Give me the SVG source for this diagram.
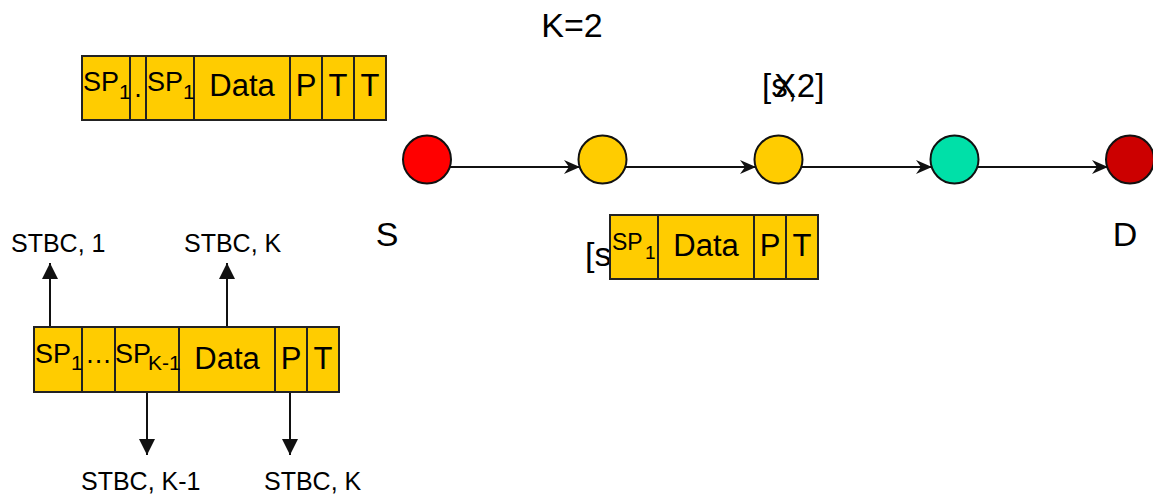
<svg xmlns="http://www.w3.org/2000/svg" width="1153" height="498" viewBox="0 0 1153 498">
  <style>
    text { font-family: "Liberation Sans", Arial, sans-serif; fill: #000; }
    .cell { fill: #FFCC00; stroke: #222; stroke-width: 2; }
    .node { stroke: #111; stroke-width: 2; }
    .edge { stroke: #111; stroke-width: 2; fill: none; }
    .lbl { font-size: 25px; }
    .big { font-size: 34px; }
    .f30 { font-size: 31px; text-anchor: middle; }
    .sp { font-size: 27px; }
    .sub { font-size: 21px; }
  </style>
  <defs>
    <marker id="stealth" viewBox="0 0 16 14" refX="16" refY="7" markerWidth="16" markerHeight="14" markerUnits="userSpaceOnUse" orient="auto">
      <path d="M0,0 L16,7 L0,14 L5,7 Z" fill="#111"/>
    </marker>
    <marker id="tri" viewBox="0 0 16 16" refX="16" refY="8" markerWidth="16" markerHeight="16" markerUnits="userSpaceOnUse" orient="auto">
      <path d="M0,0 L16,8 L0,16 Z" fill="#111"/>
    </marker>
  </defs>

  <!-- title -->
  <text class="big" x="572" y="37" text-anchor="middle">K=2</text>

  <!-- packet with two SP fields -->
  <g id="packet-top">
    <rect class="cell" x="82" y="56" width="48" height="64"/>
    <rect class="cell" x="130" y="56" width="16" height="64"/>
    <rect class="cell" x="146" y="56" width="48" height="64"/>
    <rect class="cell" x="194" y="56" width="96" height="64"/>
    <rect class="cell" x="290" y="56" width="32" height="64"/>
    <rect class="cell" x="322" y="56" width="32" height="64"/>
    <rect class="cell" x="354" y="56" width="32" height="64"/>
    <text class="sp" x="83" y="91">SP</text><text class="sub" x="119" y="99">1</text>
    <text class="sp" x="138" y="97" text-anchor="middle">.</text>
    <text class="sp" x="147" y="91">SP</text><text class="sub" x="183" y="99">1</text>
    <text class="f30" x="242" y="96">Data</text>
    <text class="f30" x="306" y="96">P</text>
    <text class="f30" x="338" y="96">T</text>
    <text class="f30" x="370" y="96">T</text>
  </g>

  <!-- relay label, X struck over the s -->
  <g id="label-relay">
    <text x="762" y="97" font-size="33">[s<tspan dx="-13.7">X</tspan><tspan dx="-8.3">,2]</tspan></text>
  </g>

  <!-- connectors -->
  <g id="connectors">
    <line class="edge" x1="450" y1="167" x2="580" y2="167" marker-end="url(#stealth)"/>
    <line class="edge" x1="625" y1="167" x2="756" y2="167" marker-end="url(#stealth)"/>
    <line class="edge" x1="801" y1="167" x2="932" y2="167" marker-end="url(#stealth)"/>
    <line class="edge" x1="977" y1="167" x2="1108" y2="167" marker-end="url(#stealth)"/>
    <line class="edge" x1="50" y1="327" x2="50" y2="263" marker-end="url(#tri)"/>
    <line class="edge" x1="227" y1="327" x2="227" y2="263" marker-end="url(#tri)"/>
    <line class="edge" x1="147" y1="392" x2="147" y2="455" marker-end="url(#tri)"/>
    <line class="edge" x1="290" y1="392" x2="290" y2="455" marker-end="url(#tri)"/>
  </g>

  <!-- nodes -->
  <g id="node-s">
    <circle class="node" cx="427" cy="159.5" r="24" fill="#FF0000"/>
    <text class="big" x="387" y="246" text-anchor="middle">S</text>
  </g>
  <g id="node-r1"><circle class="node" cx="602.5" cy="159.5" r="24" fill="#FFCC00"/></g>
  <g id="node-r2"><circle class="node" cx="778.5" cy="159.5" r="24" fill="#FFCC00"/></g>
  <g id="node-r3"><circle class="node" cx="954.5" cy="159.5" r="24" fill="#00E0A8"/></g>
  <g id="node-d">
    <circle class="node" cx="1130" cy="159.5" r="24" fill="#CC0000"/>
    <text class="big" x="1125" y="246" text-anchor="middle">D</text>
  </g>

  <!-- packet forwarded along the route -->
  <g id="packet-mid">
    <text class="big" x="585" y="266">[s</text>
    <rect class="cell" x="610" y="215" width="48" height="64"/>
    <rect class="cell" x="658" y="215" width="96" height="64"/>
    <rect class="cell" x="754" y="215" width="32" height="64"/>
    <rect class="cell" x="786" y="215" width="32" height="64"/>
    <text x="612" y="250" font-size="23">SP</text><text x="645" y="259" font-size="19">1</text>
    <text class="f30" x="706" y="256">Data</text>
    <text class="f30" x="770" y="256">P</text>
    <text class="f30" x="802" y="256">T</text>
  </g>

  <!-- packet with K-1 SP fields -->
  <g id="packet-bottom">
    <rect class="cell" x="34" y="327" width="48" height="65"/>
    <rect class="cell" x="82" y="327" width="33" height="65"/>
    <rect class="cell" x="115" y="327" width="64" height="65"/>
    <rect class="cell" x="179" y="327" width="96" height="65"/>
    <rect class="cell" x="275" y="327" width="32" height="65"/>
    <rect class="cell" x="307" y="327" width="32" height="65"/>
    <text class="sp" x="35" y="363">SP</text><text class="sub" x="71" y="370">1</text>
    <text class="sp" x="98.5" y="363" text-anchor="middle">…</text>
    <text class="sp" x="115" y="363">SP</text><text class="sub" x="148" y="370" font-size="19">K-1</text>
    <text class="f30" x="227" y="369">Data</text>
    <text class="f30" x="291" y="369">P</text>
    <text class="f30" x="323" y="369">T</text>
  </g>

  <!-- STBC labels -->
  <g id="stbc-labels">
    <text class="lbl" x="11" y="252">STBC, 1</text>
    <text class="lbl" x="184" y="252">STBC, K</text>
    <text class="lbl" x="81" y="490">STBC, K-1</text>
    <text class="lbl" x="264" y="490">STBC, K</text>
  </g>
</svg>
